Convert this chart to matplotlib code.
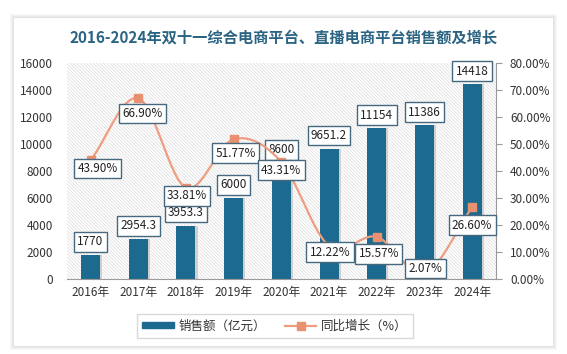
import matplotlib
matplotlib.use('Agg')
import matplotlib.pyplot as plt
from matplotlib.patches import Rectangle
from matplotlib.lines import Line2D
from matplotlib.ticker import FuncFormatter
import numpy as np

plt.rcParams['font.family'] = ['Noto Sans CJK SC', 'DejaVu Sans']
plt.rcParams['hatch.linewidth'] = 0.5

# data
years = ['2016年', '2017年', '2018年', '2019年', '2020年', '2021年', '2022年', '2023年', '2024年']
sales = [1770, 2954.3, 3953.3, 6000, 8600, 9651.2, 11154, 11386, 14418]
sales_text = ['1770', '2954.3', '3953.3', '6000', '8600', '9651.2', '11154', '11386', '14418']
growth = [43.90, 66.90, 33.81, 51.77, 43.31, 12.22, 15.57, 2.07, 26.60]

# label offsets (px) for the growth labels
pct_dx = [7, 4, 1, 2, 0, 1, 2, 1, 0]
pct_dy = [-8, -15, -8, -14, -8, -6, -17, 5, -18]

bar_c = '#1c6a8f'
line_c = '#ee9d80'
mark_c = '#e8906f'
box_ec = '#46697f'

fig = plt.figure(figsize=(5.67, 3.54), dpi=100)
fig.patch.set_facecolor('white')

# card with soft shadow
W, H = 567, 354
for i, a in enumerate([0.05, 0.05, 0.06, 0.07]):
    d = 4 - i
    fig.add_artist(Rectangle(((14 - d) / W, 1 - (346 + d) / H), (539 + 2 * d) / W, (328 + 2 * d) / H,
                             transform=fig.transFigure, facecolor='#808080', alpha=a, lw=0, zorder=-5))
fig.add_artist(Rectangle((14 / W, 1 - 346 / H), 539 / W, 328 / H, transform=fig.transFigure,
                         facecolor='white', lw=0, zorder=-4))

ax = fig.add_axes([66.7 / W, 1 - 279 / H, (496 - 66.7) / W, 216 / H])
ax.set_facecolor('none')
ax.add_patch(Rectangle((0, 0), 1, 1, transform=ax.transAxes, facecolor='white', edgecolor='#dcdcdc',
                       hatch='\\' * 10, lw=0, zorder=0))

x = np.arange(len(years))
ax.bar(x + 0.045, sales, width=0.4, color='#b8b8b8', alpha=0.6, zorder=1)
ax.bar(x, sales, width=0.4, color=bar_c, zorder=2, label='销售额（亿元）')
ax.set_xlim(-0.5, len(years) - 0.5)
ax.set_ylim(0, 16000)
ax.set_yticks(np.arange(0, 16001, 2000))
ax.set_xticks(x)
ax.set_xticklabels(years, fontsize=8.5, color='#333333')
ax.tick_params(axis='y', length=0, pad=10, labelsize=8.5, labelcolor='#333333')
ax.tick_params(axis='x', length=0, pad=5)
for s in ['top', 'left', 'right']:
    ax.spines[s].set_visible(False)
ax.spines['bottom'].set_color('#9a9a9a')

box = dict(boxstyle='square,pad=0.28', fc='white', ec=box_ec, lw=1)
for xi, v, t in zip(x, sales, sales_text):
    ax.annotate(t, (xi, v), xytext=(0, 9.5), textcoords='offset points', ha='center', va='center',
                fontsize=8.5, color='#222222', bbox=box, zorder=6)

ax2 = ax.twinx()
ax2.set_ylim(0, 80)
ax2.set_yticks(np.arange(0, 81, 10))
ax2.yaxis.set_major_formatter(FuncFormatter(lambda v, p: '%.2f%%' % v))
ax2.tick_params(axis='y', direction='out', length=4, color='#9a9a9a', pad=6, labelsize=8.5,
                labelcolor='#333333')
for s in ['top', 'left', 'bottom']:
    ax2.spines[s].set_visible(False)
ax2.spines['right'].set_color('#9a9a9a')

# smooth curve through the points (Catmull-Rom)
px = np.array(x, dtype=float)
py = np.array(growth, dtype=float)
P = np.vstack([px, py]).T
P = np.vstack([P[0] * 2 - P[1], P, P[-1] * 2 - P[-2]])
cx, cy = [], []
t = np.linspace(0, 1, 30)
for i in range(1, len(P) - 2):
    p0, p1, p2, p3 = P[i - 1], P[i], P[i + 1], P[i + 2]
    m1 = (p2 - p0) / 2
    m2 = (p3 - p1) / 2
    h00 = 2 * t**3 - 3 * t**2 + 1
    h10 = t**3 - 2 * t**2 + t
    h01 = -2 * t**3 + 3 * t**2
    h11 = t**3 - t**2
    seg = np.outer(h00, p1) + np.outer(h10, m1) + np.outer(h01, p2) + np.outer(h11, m2)
    cx.extend(seg[:, 0])
    cy.extend(seg[:, 1])
ax2.plot(cx, cy, color=line_c, lw=1.6, zorder=3)
ax2.plot(px, py, ls='none', marker='s', ms=6, color=mark_c, zorder=4)

for xi, v, dx, dy in zip(x, growth, pct_dx, pct_dy):
    ax2.annotate('%.2f%%' % v, (xi, v), xytext=(dx * 0.72, dy * 0.72), textcoords='offset points',
                 ha='center', va='center', fontsize=8.5, color='#222222', bbox=box, zorder=6)

fig.text(284 / W, 1 - 38 / H, '2016-2024年双十一综合电商平台、直播电商平台销售额及增长', ha='center', va='center',
         fontsize=11, fontweight='bold', color='#2b6483')

handles = [Rectangle((0, 0), 1, 1, color=bar_c),
           Line2D([0], [0], color=line_c, lw=1.6, marker='s', ms=6, markerfacecolor=mark_c,
                  markeredgecolor=mark_c)]
leg = fig.legend(handles, ['销售额（亿元）', '同比增长（%）'], loc='center', bbox_to_anchor=(275 / W, 1 - 326 / H),
                 ncol=2, fontsize=9, frameon=True, fancybox=False, edgecolor='#d0d0d0', handlelength=2.5,
                 handleheight=0.45, handletextpad=0.4, columnspacing=1.5, borderpad=0.45)
for txt in leg.get_texts():
    txt.set_color('#333333')

fig.savefig('out.png', dpi=100)
